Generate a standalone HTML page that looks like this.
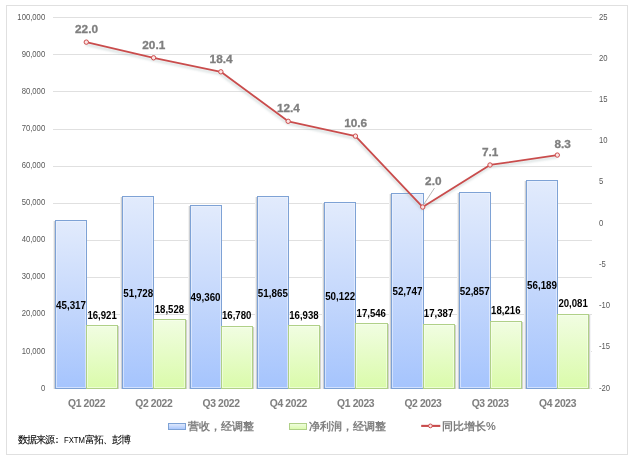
<!DOCTYPE html>
<html><head><meta charset="utf-8"><style>
html,body{margin:0;padding:0;background:#fff;}
svg{display:block;will-change:transform;}
text{font-family:"Liberation Sans",sans-serif;}
.ax{font-size:8.4px;fill:#595959;}
.dl{font-size:10px;font-weight:bold;fill:#000;}
.ll{font-size:11.8px;font-weight:bold;fill:#7f7f7f;stroke:#7f7f7f;stroke-width:0.3px;}
.cat{font-size:10.3px;font-weight:bold;fill:#808080;stroke:#7f7f7f;stroke-width:0.05px;letter-spacing:-0.35px;}
.lg{font-size:11px;font-weight:bold;fill:#7f7f7f;}
.src{font-size:10px;fill:#000;stroke:#000;stroke-width:0.08px;}
.src2{font-size:9px;fill:#000;}
</style></head><body>
<svg width="635" height="461" viewBox="0 0 635 461">
<defs>
<linearGradient id="gb" x1="0" y1="0" x2="0" y2="1"><stop offset="0" stop-color="#e2ebfc"/><stop offset="0.5" stop-color="#c5d8fc"/><stop offset="1" stop-color="#a5c4fd"/></linearGradient>
<linearGradient id="gg" x1="0" y1="0" x2="0" y2="1"><stop offset="0" stop-color="#f1fde2"/><stop offset="1" stop-color="#dafbaa"/></linearGradient>
<filter id="blur" x="-5%" y="-5%" width="110%" height="110%"><feGaussianBlur stdDeviation="0.9"/></filter>
</defs>
<rect x="6.5" y="5.5" width="621" height="449" fill="#fff" stroke="#e0e0e0" stroke-width="1"/>
<rect x="53" y="17" width="539" height="1" fill="#e0e0e0"/>
<rect x="53" y="54" width="539" height="1" fill="#e0e0e0"/>
<rect x="53" y="91" width="539" height="1" fill="#e0e0e0"/>
<rect x="53" y="129" width="539" height="1" fill="#e0e0e0"/>
<rect x="53" y="166" width="539" height="1" fill="#e0e0e0"/>
<rect x="53" y="203" width="539" height="1" fill="#e0e0e0"/>
<rect x="53" y="240" width="539" height="1" fill="#e0e0e0"/>
<rect x="53" y="277" width="539" height="1" fill="#e0e0e0"/>
<rect x="53" y="314" width="539" height="1" fill="#e0e0e0"/>
<rect x="53" y="351" width="539" height="1" fill="#e0e0e0"/>
<rect x="53" y="388" width="539" height="1" fill="#e0e0e0"/>
<text x="17.37" y="19.60" class="ax" textLength="27.83" lengthAdjust="spacingAndGlyphs">100,000</text>
<text x="21.65" y="56.70" class="ax" textLength="23.55" lengthAdjust="spacingAndGlyphs">90,000</text>
<text x="21.65" y="93.80" class="ax" textLength="23.55" lengthAdjust="spacingAndGlyphs">80,000</text>
<text x="21.65" y="130.90" class="ax" textLength="23.55" lengthAdjust="spacingAndGlyphs">70,000</text>
<text x="21.65" y="168.00" class="ax" textLength="23.55" lengthAdjust="spacingAndGlyphs">60,000</text>
<text x="21.65" y="205.10" class="ax" textLength="23.55" lengthAdjust="spacingAndGlyphs">50,000</text>
<text x="21.65" y="242.20" class="ax" textLength="23.55" lengthAdjust="spacingAndGlyphs">40,000</text>
<text x="21.65" y="279.30" class="ax" textLength="23.55" lengthAdjust="spacingAndGlyphs">30,000</text>
<text x="21.65" y="316.40" class="ax" textLength="23.55" lengthAdjust="spacingAndGlyphs">20,000</text>
<text x="21.65" y="353.50" class="ax" textLength="23.55" lengthAdjust="spacingAndGlyphs">10,000</text>
<text x="40.92" y="390.60" class="ax" textLength="4.28" lengthAdjust="spacingAndGlyphs">0</text>
<text x="599" y="19.60" class="ax" textLength="8.56" lengthAdjust="spacingAndGlyphs">25</text>
<text x="599" y="60.82" class="ax" textLength="8.56" lengthAdjust="spacingAndGlyphs">20</text>
<text x="599" y="102.04" class="ax" textLength="8.56" lengthAdjust="spacingAndGlyphs">15</text>
<text x="599" y="143.27" class="ax" textLength="8.56" lengthAdjust="spacingAndGlyphs">10</text>
<text x="599" y="184.49" class="ax" textLength="4.28" lengthAdjust="spacingAndGlyphs">5</text>
<text x="599" y="225.71" class="ax" textLength="4.28" lengthAdjust="spacingAndGlyphs">0</text>
<text x="599" y="266.93" class="ax" textLength="6.85" lengthAdjust="spacingAndGlyphs">-5</text>
<text x="599" y="308.16" class="ax" textLength="11.13" lengthAdjust="spacingAndGlyphs">-10</text>
<text x="599" y="349.38" class="ax" textLength="11.13" lengthAdjust="spacingAndGlyphs">-15</text>
<text x="599" y="390.60" class="ax" textLength="11.13" lengthAdjust="spacingAndGlyphs">-20</text>
<rect x="53" y="221" width="1" height="168" fill="#f1f1f1"/>
<rect x="54" y="221" width="1" height="168" fill="#cdd0d4"/>
<rect x="55.5" y="220.5" width="31" height="168" fill="url(#gb)" stroke="#7ea2d5" stroke-width="1"/>
<rect x="56.5" y="221.5" width="29" height="166" fill="none" stroke="#eef3fe" stroke-opacity="0.6" stroke-width="1"/>
<rect x="118" y="326" width="1" height="63" fill="#d2d3cc"/>
<rect x="119" y="326" width="1" height="63" fill="#f4f4f7"/>
<rect x="86.5" y="325.5" width="31" height="63" fill="url(#gg)" stroke="#b0d088" stroke-width="1"/>
<rect x="87.5" y="326.5" width="29" height="61" fill="none" stroke="#f8fff0" stroke-opacity="0.6" stroke-width="1"/>
<rect x="120" y="197" width="1" height="192" fill="#f1f1f1"/>
<rect x="121" y="197" width="1" height="192" fill="#cdd0d4"/>
<rect x="122.5" y="196.5" width="31" height="192" fill="url(#gb)" stroke="#7ea2d5" stroke-width="1"/>
<rect x="123.5" y="197.5" width="29" height="190" fill="none" stroke="#eef3fe" stroke-opacity="0.6" stroke-width="1"/>
<rect x="186" y="320" width="1" height="69" fill="#d2d3cc"/>
<rect x="187" y="320" width="1" height="69" fill="#f4f4f7"/>
<rect x="153.5" y="319.5" width="32" height="69" fill="url(#gg)" stroke="#b0d088" stroke-width="1"/>
<rect x="154.5" y="320.5" width="30" height="67" fill="none" stroke="#f8fff0" stroke-opacity="0.6" stroke-width="1"/>
<rect x="188" y="206" width="1" height="183" fill="#f1f1f1"/>
<rect x="189" y="206" width="1" height="183" fill="#cdd0d4"/>
<rect x="190.5" y="205.5" width="31" height="183" fill="url(#gb)" stroke="#7ea2d5" stroke-width="1"/>
<rect x="191.5" y="206.5" width="29" height="181" fill="none" stroke="#eef3fe" stroke-opacity="0.6" stroke-width="1"/>
<rect x="253" y="327" width="1" height="62" fill="#d2d3cc"/>
<rect x="254" y="327" width="1" height="62" fill="#f4f4f7"/>
<rect x="221.5" y="326.5" width="31" height="62" fill="url(#gg)" stroke="#b0d088" stroke-width="1"/>
<rect x="222.5" y="327.5" width="29" height="60" fill="none" stroke="#f8fff0" stroke-opacity="0.6" stroke-width="1"/>
<rect x="255" y="197" width="1" height="192" fill="#f1f1f1"/>
<rect x="256" y="197" width="1" height="192" fill="#cdd0d4"/>
<rect x="257.5" y="196.5" width="31" height="192" fill="url(#gb)" stroke="#7ea2d5" stroke-width="1"/>
<rect x="258.5" y="197.5" width="29" height="190" fill="none" stroke="#eef3fe" stroke-opacity="0.6" stroke-width="1"/>
<rect x="320" y="326" width="1" height="63" fill="#d2d3cc"/>
<rect x="321" y="326" width="1" height="63" fill="#f4f4f7"/>
<rect x="288.5" y="325.5" width="31" height="63" fill="url(#gg)" stroke="#b0d088" stroke-width="1"/>
<rect x="289.5" y="326.5" width="29" height="61" fill="none" stroke="#f8fff0" stroke-opacity="0.6" stroke-width="1"/>
<rect x="322" y="203" width="1" height="186" fill="#f1f1f1"/>
<rect x="323" y="203" width="1" height="186" fill="#cdd0d4"/>
<rect x="324.5" y="202.5" width="31" height="186" fill="url(#gb)" stroke="#7ea2d5" stroke-width="1"/>
<rect x="325.5" y="203.5" width="29" height="184" fill="none" stroke="#eef3fe" stroke-opacity="0.6" stroke-width="1"/>
<rect x="388" y="324" width="1" height="65" fill="#d2d3cc"/>
<rect x="389" y="324" width="1" height="65" fill="#f4f4f7"/>
<rect x="355.5" y="323.5" width="32" height="65" fill="url(#gg)" stroke="#b0d088" stroke-width="1"/>
<rect x="356.5" y="324.5" width="30" height="63" fill="none" stroke="#f8fff0" stroke-opacity="0.6" stroke-width="1"/>
<rect x="389" y="194" width="1" height="195" fill="#f1f1f1"/>
<rect x="390" y="194" width="1" height="195" fill="#cdd0d4"/>
<rect x="391.5" y="193.5" width="32" height="195" fill="url(#gb)" stroke="#7ea2d5" stroke-width="1"/>
<rect x="392.5" y="194.5" width="30" height="193" fill="none" stroke="#eef3fe" stroke-opacity="0.6" stroke-width="1"/>
<rect x="455" y="325" width="1" height="64" fill="#d2d3cc"/>
<rect x="456" y="325" width="1" height="64" fill="#f4f4f7"/>
<rect x="423.5" y="324.5" width="31" height="64" fill="url(#gg)" stroke="#b0d088" stroke-width="1"/>
<rect x="424.5" y="325.5" width="29" height="62" fill="none" stroke="#f8fff0" stroke-opacity="0.6" stroke-width="1"/>
<rect x="457" y="193" width="1" height="196" fill="#f1f1f1"/>
<rect x="458" y="193" width="1" height="196" fill="#cdd0d4"/>
<rect x="459.5" y="192.5" width="31" height="196" fill="url(#gb)" stroke="#7ea2d5" stroke-width="1"/>
<rect x="460.5" y="193.5" width="29" height="194" fill="none" stroke="#eef3fe" stroke-opacity="0.6" stroke-width="1"/>
<rect x="522" y="322" width="1" height="67" fill="#d2d3cc"/>
<rect x="523" y="322" width="1" height="67" fill="#f4f4f7"/>
<rect x="490.5" y="321.5" width="31" height="67" fill="url(#gg)" stroke="#b0d088" stroke-width="1"/>
<rect x="491.5" y="322.5" width="29" height="65" fill="none" stroke="#f8fff0" stroke-opacity="0.6" stroke-width="1"/>
<rect x="524" y="181" width="1" height="208" fill="#f1f1f1"/>
<rect x="525" y="181" width="1" height="208" fill="#cdd0d4"/>
<rect x="526.5" y="180.5" width="31" height="208" fill="url(#gb)" stroke="#7ea2d5" stroke-width="1"/>
<rect x="527.5" y="181.5" width="29" height="206" fill="none" stroke="#eef3fe" stroke-opacity="0.6" stroke-width="1"/>
<rect x="589" y="315" width="1" height="74" fill="#d2d3cc"/>
<rect x="590" y="315" width="1" height="74" fill="#f4f4f7"/>
<rect x="557.5" y="314.5" width="31" height="74" fill="url(#gg)" stroke="#b0d088" stroke-width="1"/>
<rect x="558.5" y="315.5" width="29" height="72" fill="none" stroke="#f8fff0" stroke-opacity="0.6" stroke-width="1"/>
<text x="56.00" y="308.99" class="dl" textLength="30" lengthAdjust="spacingAndGlyphs">45,317</text>
<text x="87.40" y="318.92" class="dl" textLength="29.4" lengthAdjust="spacingAndGlyphs">16,921</text>
<text x="123.29" y="297.09" class="dl" textLength="30" lengthAdjust="spacingAndGlyphs">51,728</text>
<text x="154.69" y="312.96" class="dl" textLength="29.4" lengthAdjust="spacingAndGlyphs">18,528</text>
<text x="190.57" y="301.49" class="dl" textLength="30" lengthAdjust="spacingAndGlyphs">49,360</text>
<text x="221.97" y="319.45" class="dl" textLength="29.4" lengthAdjust="spacingAndGlyphs">16,780</text>
<text x="257.86" y="296.84" class="dl" textLength="30" lengthAdjust="spacingAndGlyphs">51,865</text>
<text x="289.26" y="318.86" class="dl" textLength="29.4" lengthAdjust="spacingAndGlyphs">16,938</text>
<text x="325.14" y="300.07" class="dl" textLength="30" lengthAdjust="spacingAndGlyphs">50,122</text>
<text x="356.54" y="316.60" class="dl" textLength="29.4" lengthAdjust="spacingAndGlyphs">17,546</text>
<text x="392.43" y="295.20" class="dl" textLength="30" lengthAdjust="spacingAndGlyphs">52,747</text>
<text x="423.83" y="317.19" class="dl" textLength="29.4" lengthAdjust="spacingAndGlyphs">17,387</text>
<text x="459.72" y="295.00" class="dl" textLength="30" lengthAdjust="spacingAndGlyphs">52,857</text>
<text x="491.12" y="314.12" class="dl" textLength="29.4" lengthAdjust="spacingAndGlyphs">18,216</text>
<text x="527.00" y="288.82" class="dl" textLength="30" lengthAdjust="spacingAndGlyphs">56,189</text>
<text x="558.40" y="307.20" class="dl" textLength="29.4" lengthAdjust="spacingAndGlyphs">20,081</text>
<polyline points="86.30,42.13 153.59,57.80 220.87,71.81 288.16,121.28 355.44,136.12 422.73,207.02 490.02,164.98 557.30,155.08" fill="none" stroke="#8fa5a5" stroke-opacity="0.35" stroke-width="2.2" transform="translate(-0.6,2.2)" stroke-linejoin="round" filter="url(#blur)"/>
<polyline points="86.30,42.13 153.59,57.80 220.87,71.81 288.16,121.28 355.44,136.12 422.73,207.02 490.02,164.98 557.30,155.08" fill="none" stroke="#c94c4c" stroke-width="1.8" stroke-linejoin="round"/>
<circle cx="86.30" cy="42.13" r="2.2" fill="#fbe3e3" stroke="#cc4c4c" stroke-width="1.0"/>
<circle cx="153.59" cy="57.80" r="2.2" fill="#fbe3e3" stroke="#cc4c4c" stroke-width="1.0"/>
<circle cx="220.87" cy="71.81" r="2.2" fill="#fbe3e3" stroke="#cc4c4c" stroke-width="1.0"/>
<circle cx="288.16" cy="121.28" r="2.2" fill="#fbe3e3" stroke="#cc4c4c" stroke-width="1.0"/>
<circle cx="355.44" cy="136.12" r="2.2" fill="#fbe3e3" stroke="#cc4c4c" stroke-width="1.0"/>
<circle cx="422.73" cy="207.02" r="2.2" fill="#fbe3e3" stroke="#cc4c4c" stroke-width="1.0"/>
<circle cx="490.02" cy="164.98" r="2.2" fill="#fbe3e3" stroke="#cc4c4c" stroke-width="1.0"/>
<circle cx="557.30" cy="155.08" r="2.2" fill="#fbe3e3" stroke="#cc4c4c" stroke-width="1.0"/>
<text x="86.50" y="33.03" class="ll" text-anchor="middle">22.0</text>
<text x="153.79" y="48.70" class="ll" text-anchor="middle">20.1</text>
<text x="221.07" y="62.71" class="ll" text-anchor="middle">18.4</text>
<text x="288.36" y="112.18" class="ll" text-anchor="middle">12.4</text>
<text x="355.64" y="127.02" class="ll" text-anchor="middle">10.6</text>
<line x1="423.43" y1="204.92" x2="434.5" y2="188" stroke="#a6a6a6" stroke-width="0.8"/>
<text x="433.30" y="185.00" class="ll" text-anchor="middle">2.0</text>
<text x="490.22" y="155.88" class="ll" text-anchor="middle">7.1</text>
<text x="562.60" y="147.80" class="ll" text-anchor="middle">8.3</text>
<text x="86.50" y="407.2" class="cat" text-anchor="middle">Q1 2022</text>
<text x="153.79" y="407.2" class="cat" text-anchor="middle">Q2 2022</text>
<text x="221.07" y="407.2" class="cat" text-anchor="middle">Q3 2022</text>
<text x="288.36" y="407.2" class="cat" text-anchor="middle">Q4 2022</text>
<text x="355.64" y="407.2" class="cat" text-anchor="middle">Q1 2023</text>
<text x="422.93" y="407.2" class="cat" text-anchor="middle">Q2 2023</text>
<text x="490.22" y="407.2" class="cat" text-anchor="middle">Q3 2023</text>
<text x="557.50" y="407.2" class="cat" text-anchor="middle">Q4 2023</text>
<rect x="168.5" y="423.5" width="17" height="6" fill="url(#gb)" stroke="#7ea2d5" stroke-width="1"/>
<text x="188" y="430" class="lg">营收，经调整</text>
<rect x="289.5" y="423.5" width="17" height="6" fill="url(#gg)" stroke="#b0d088" stroke-width="1"/>
<text x="309" y="430" class="lg">净利润，经调整</text>
<line x1="421.2" y1="425.9" x2="440.3" y2="425.9" stroke="#c94c4c" stroke-width="2.1"/>
<circle cx="430.4" cy="425.9" r="1.9" fill="#fbe3e3" stroke="#cc4c4c" stroke-width="1.0"/>
<text x="442" y="430" class="lg">同比增长%</text>
<text x="17.8 26.8 35.8 44.8 51.5" y="443.4" class="src">数据来源：</text>
<text x="64" y="443.2" class="src2" textLength="21" lengthAdjust="spacingAndGlyphs">FXTM</text>
<text x="84.5 93.5 102.8 111.5 120.5" y="443.4" class="src">富拓、彭博</text>
</svg>
</body></html>
